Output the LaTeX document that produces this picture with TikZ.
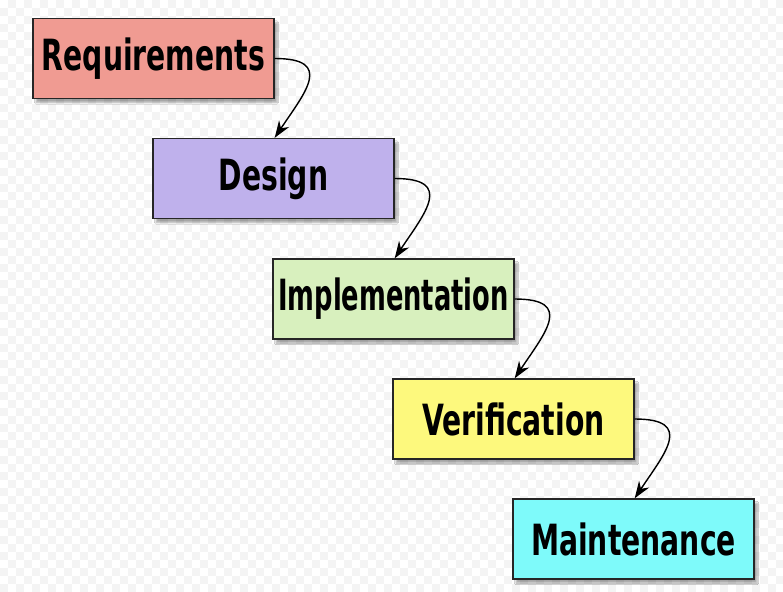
\documentclass[tikz,border=0pt]{standalone}
\usepackage{fontspec}
\newfontfamily\dvc{DejaVu Sans Condensed}[BoldFont={DejaVu Sans Condensed Bold},BoldFeatures={FakeStretch=0.73},FakeStretch=0.73]
\newfontfamily\dvn{DejaVu Sans Condensed}[BoldFont={DejaVu Sans Condensed Bold},BoldFeatures={FakeStretch=0.665},FakeStretch=0.665]
\usetikzlibrary{shadows.blur,arrows.meta}
\definecolor{reqc}{RGB}{240,155,146}
\definecolor{desc}{RGB}{191,177,236}
\definecolor{impc}{RGB}{216,240,190}
\definecolor{verc}{RGB}{253,249,125}
\definecolor{mntc}{RGB}{126,250,250}
\definecolor{chk}{RGB}{244,244,244}
\tikzset{
  stagebox/.style={draw=black!85, line width=1.3pt, minimum width=241pt, minimum height=80pt,
    inner sep=0pt, font=\dvc\bfseries\fontsize{43}{45}\selectfont,
    blur shadow={shadow xshift=3pt, shadow yshift=-4pt, shadow blur steps=6, shadow opacity=35}},
  flow/.style={draw=black, line width=1.4pt, -{Stealth[length=17pt,width=12pt]}}
}
\begin{document}
\begin{tikzpicture}[x=1pt,y=-1pt]
\useasboundingbox (0,0) rectangle (783,591);
\fill[white] (0,0) rectangle (783,591);
\foreach \i in {0,...,97}{
  \foreach \j in {0,...,73}{
    \pgfmathtruncatemacro{\chkpar}{mod(\i+\j,2)}
    \ifnum\chkpar=1 \fill[chk] (\i*8,\j*8) rectangle ++(8,8);\fi
  }
}
\node[stagebox, fill=reqc] (R) at (153.5,58.5) {Requirements};
\node[stagebox, fill=desc] (D) at (273.5,178.5) {Design};
\node[stagebox, fill=impc, font=\dvn\bfseries\fontsize{43}{45}\selectfont] (I) at (393.5,299) {Implementation};
\node[stagebox, fill=verc] (V) at (513.5,419) {Verification};
\node[stagebox, fill=mntc] (M) at (633.5,539) {Maintenance};
\draw[flow] (R.east) .. controls +(60,0) and +(30,-45) .. (R.east |- D.north);
\draw[flow] (D.east) .. controls +(60,0) and +(30,-45) .. (D.east |- I.north);
\draw[flow] (I.east) .. controls +(60,0) and +(30,-45) .. (I.east |- V.north);
\draw[flow] (V.east) .. controls +(60,0) and +(30,-45) .. (V.east |- M.north);
\end{tikzpicture}
\end{document}
